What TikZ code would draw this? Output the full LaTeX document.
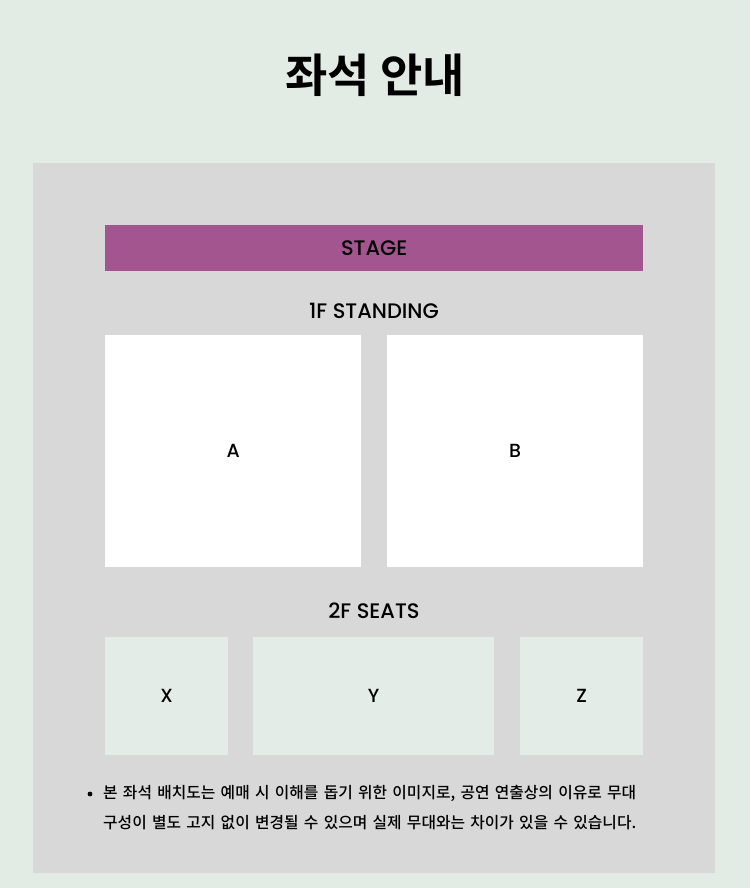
\documentclass[tikz,border=0pt]{standalone}
\usepackage{fontspec}
\setmainfont{Poppins Medium}
\newfontfamily\krfont{Noto Sans CJK KR Medium}
\newfontfamily\krboldfont{Noto Sans CJK KR Bold}
\usetikzlibrary{positioning}
\definecolor{bgColor}{HTML}{E3ECE4}
\definecolor{panelColor}{HTML}{D8D8D8}
\definecolor{stageColor}{HTML}{A3558F}
\definecolor{seatColor}{HTML}{E3ECE6}
\tikzset{
	floor label/.style={text=black, font=\fontsize{21}{25}\selectfont},
	stand box/.style={fill=white, minimum width=256pt, minimum height=232pt, inner sep=0pt, anchor=north west, font=\fontsize{19}{23}\selectfont},
	seat box/.style={fill=seatColor, minimum height=118pt, inner sep=0pt, anchor=north west, font=\fontsize{19}{23}\selectfont}
}
\newcommand{\noteText}{\krfont\fontsize{15.8}{30}\selectfont}

\begin{document}
\begin{tikzpicture}[x=1pt, y=-1pt]
	\useasboundingbox[fill=bgColor] (0,0) rectangle (750,888);
	\node[fill=panelColor, minimum width=682pt, minimum height=710pt, inner sep=0pt, anchor=north west] at (33,163) (panel) {};
	\node[font=\krboldfont\fontsize{46}{52}\selectfont] at (375,75) (title) {좌석 안내};
	\node[fill=stageColor, minimum width=538pt, minimum height=46pt, inner sep=0pt, anchor=north west, floor label] at (105,225) (stage) {STAGE};
	% 1F
	\node[floor label] at (374,311) (first) {1F STANDING};
	\node[stand box] at (105,335) (zone_a) {A};
	\node[stand box] at (387,335) (zone_b) {B};
	% 2F
	\node[floor label] at (374,611) (second) {2F SEATS};
	\node[seat box, minimum width=123pt] at (105,637) (seat_x) {X};
	\node[seat box, minimum width=241pt] at (253,637) (seat_y) {Y};
	\node[seat box, minimum width=123pt] at (520,637) (seat_z) {Z};
	\fill (90,794) circle (2.4pt);
	\node[anchor=west, inner sep=0pt, text width=580pt, align=left, font=\noteText] at (103,808) (note) {본 좌석 배치도는 예매 시 이해를 돕기 위한 이미지로, 공연 연출상의 이유로 무대\\구성이 별도 고지 없이 변경될 수 있으며 실제 무대와는 차이가 있을 수 있습니다.};
\end{tikzpicture}
\end{document}
